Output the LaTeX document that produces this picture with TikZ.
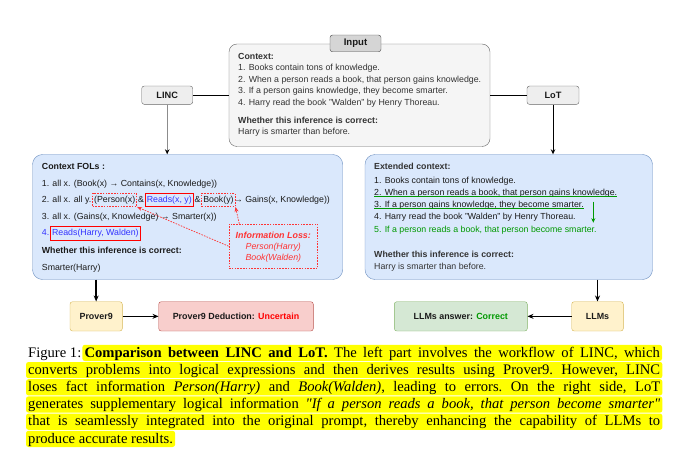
\documentclass[tikz,border=0pt]{standalone}
\usepackage{fontspec}
\setmainfont{Liberation Sans}
\newfontfamily\capfont{Liberation Serif}
\usetikzlibrary{arrows.meta,fit}
\definecolor{txt}{HTML}{1A1A1A}
\definecolor{gtxt}{HTML}{333333}
\definecolor{bfill}{HTML}{DAE8FC}\definecolor{bdraw}{HTML}{6C8EBF}
\definecolor{yfill}{HTML}{FFF2CC}\definecolor{ydraw}{HTML}{D6B656}
\definecolor{rfill}{HTML}{F8CECC}\definecolor{rdraw}{HTML}{B85450}
\definecolor{gfill}{HTML}{D5E8D4}\definecolor{gdraw}{HTML}{82B366}
\definecolor{redt}{HTML}{FF0000}\definecolor{redl}{HTML}{FF3333}
\definecolor{greent}{HTML}{009900}
\definecolor{bluet}{HTML}{3333FF}
\definecolor{hlyellow}{HTML}{FFFF00}
\definecolor{infill}{HTML}{F5F5F5}\definecolor{indraw}{HTML}{666666}
\definecolor{lblfill}{HTML}{EEEEEE}\definecolor{tagfill}{HTML}{D5D5D5}
\pgfdeclarelayer{bg}\pgfsetlayers{bg,main}
\newlength\capfigw
\newcommand\capsz{\capfont\fontsize{14.6}{17}\selectfont\frenchspacing}
\newcommand\fsz{\fontsize{8.8}{10}\selectfont}
\begin{document}
\begin{tikzpicture}[x=1pt,y=-1pt,
  font=\fsz,
  lbl/.style={anchor=base west,inner sep=0pt,text=txt},
  glbl/.style={anchor=base west,inner sep=0pt,text=gtxt},
  tagbox/.style={draw=indraw,fill=lblfill,rounded corners=2.5pt,inner sep=0pt,font=\fontsize{9.2}{10}\selectfont\bfseries,text=txt},
  bigbox/.style={draw=bdraw,fill=bfill,rounded corners=10pt,inner sep=0pt},
  smallbox/.style={rounded corners=2.5pt,inner sep=0pt,minimum height=29.3pt,font=\fontsize{8.9}{10}\selectfont\bfseries,text=txt},
  rsolid/.style={draw=redt,line width=0.8pt,inner xsep=1.3pt,inner ysep=2.3pt},
  rdash/.style={draw=redl,dashed,dash pattern=on 1.6pt off 1.2pt,line width=0.7pt,inner xsep=1.3pt,inner ysep=2.3pt},
  capline/.style={anchor=base west,inner sep=0pt,font=\capsz},
  hl/.style={fill=hlyellow,rounded corners=2.5pt},
  arr/.style={-{Stealth[length=6pt,width=5pt]},line width=1.4pt,black},
  harr/.style={-{Stealth[length=6pt,width=5pt]},line width=0.8pt,black}]
\useasboundingbox (0,0) rectangle (680,476);

% ---------- top ----------
\node[draw=indraw,fill=infill,rounded corners=8pt,minimum width=261pt,minimum height=102.5pt,inner sep=0pt] (input) at (359.5,95.25) {};
\node[tagbox,fill=tagfill,draw=black!70,minimum width=51pt,minimum height=16.7pt,font=\fontsize{9.6}{10}\selectfont\bfseries] (inlbl) at (355.5,43.4) {Input};
\node[glbl,font=\fsz\bfseries] (i0) at (238,59.7) {Context:};
\node[glbl] (i1) at (238,70.3) {1. Books contain tons of knowledge.};
\node[glbl] (i2) at (238,82.3) {2. When a person reads a book, that person gains knowledge.};
\node[glbl] (i3) at (238,94) {3. If a person gains knowledge, they become smarter.};
\node[glbl] (i4) at (238,105.7) {4. Harry read the book "Walden" by Henry Thoreau.};
\node[glbl,font=\fsz\bfseries] (i5) at (238,123.7) {Whether this inference is correct:};
\node[glbl] (i6) at (238,134.7) {Harry is smarter than before.};

\node[tagbox,minimum width=51pt,minimum height=18.3pt] (linc) at (167.2,95.2) {LINC};
\node[tagbox,minimum width=52pt,minimum height=18.3pt] (lot) at (553,95.2) {LoT};
\draw[line width=0.8pt] (linc.east) -- (input.west |- linc.east);
\draw[line width=0.8pt] (lot.west) -- (input.east |- lot.west);

% ---------- big boxes ----------
\node[bigbox,minimum width=310.2pt,minimum height=125pt] (left) at (187.6,217) {};
\node[bigbox,minimum width=287.5pt,minimum height=125pt] (right) at (508.75,217) {};
\draw[-{Stealth[length=5pt,width=4.5pt,black]},line width=0.9pt,black!45] (linc.south) -- (linc.south |- left.north);
\draw[-{Stealth[length=5pt,width=4.5pt]},line width=0.9pt] (lot.south) -- (lot.south |- right.north);

% left box content
\node[lbl,font=\fsz\bfseries] (f0) at (41.7,169) {Context FOLs :};
\node[lbl] (f1) at (41.7,186.3) {1. all x. (Book(x) → Contains(x, Knowledge))};
\node[lbl] (f2a) at (41.7,202.3) {2. all x. all y.\ \null};
\node[lbl] (f2p) at (f2a.base east) {(Person(x)};
\node[lbl] (f2b) at (f2p.base east) {\null\ \&\ \null};
\node[lbl,text=bluet] (f2r) at (f2b.base east) {Reads(x, y)};
\node[lbl] (f2c) at (f2r.base east) {\null\ \&\ \null};
\node[lbl] (f2k) at (f2c.base east) {Book(y)};
\node[lbl] (f2d) at (f2k.base east) {→ Gains(x, Knowledge))};
\node[lbl] (f3) at (41.7,219) {3. all x. (Gains(x, Knowledge) → Smarter(x))};
\node[lbl,text=bluet] (f4a) at (41.7,235.7) {4.\ \null};
\node[lbl,text=bluet] (f4r) at (f4a.base east) {Reads(Harry, Walden)};
\node[lbl,font=\fsz\bfseries] (f5) at (41.7,253) {Whether this inference is correct:};
\node[lbl] (f6) at (41.7,270.3) {Smarter(Harry)};

\node[rdash,fit=(f2p)] (pb) {};
\node[rsolid,fit=(f2r)] (rb) {};
\node[rdash,fit=(f2k)] (kb) {};
\node[rsolid,fit=(f4r)] (rb4) {};

\node[draw=redl,dashed,dash pattern=on 1.6pt off 1.2pt,line width=0.7pt,minimum width=88.7pt,minimum height=44.3pt,inner sep=0pt] (info) at (273.3,246.2) {};
\node[anchor=base,inner sep=0pt,text=redl,font=\fontsize{8.9}{10}\selectfont\bfseries\itshape] (il1) at (273.3,238) {Information Loss:};
\node[anchor=base,inner sep=0pt,text=redl,font=\fsz\itshape] (il2) at (273.3,249.7) {Person(Harry)};
\node[anchor=base,inner sep=0pt,text=redl,font=\fsz\itshape] (il3) at (273.3,260.3) {Book(Walden)};
\draw[redl,dashed,dash pattern=on 1.6pt off 1.2pt,line width=0.7pt,-{Stealth[length=5pt,width=4pt]}] (info.west) -- (pb.south east);
\draw[redl,dashed,dash pattern=on 1.6pt off 1.2pt,line width=0.7pt,-{Stealth[length=5pt,width=4pt]}] ([xshift=-34pt]info.north) -- (kb.south east);

% right box content
\node[glbl,font=\fsz\bfseries] (e0) at (374,169.7) {Extended context:};
\node[lbl] (e1) at (374,183) {1. Books contain tons of knowledge.};
\node[lbl] (e2) at (374,195.3) {2. When a person reads a book, that person gains knowledge.};
\node[lbl] (e3) at (374,207) {3. If a person gains knowledge, they become smarter.};
\node[lbl] (e4) at (374,219.7) {4. Harry read the book "Walden" by Henry Thoreau.};
\node[lbl,text=greent] (e5) at (374,232.3) {5. If a person reads a book, that person become smarter.};
\node[glbl,font=\fsz\bfseries] (e6) at (374,257) {Whether this inference is correct:};
\node[glbl] (e7) at (374,269.7) {Harry is smarter than before.};
\draw[greent,line width=0.8pt] ([yshift=-1.5pt]e2.base west) -- ([yshift=-1.5pt]e2.base east);
\draw[greent,line width=0.8pt] ([yshift=-1.5pt]e3.base west) -- ([yshift=-1.5pt]e3.base east);
\coordinate (ga) at (593.3,201.7);
\coordinate (gb) at (593.3,222.7);
\draw[greent,line width=0.8pt,-{Stealth[length=4.5pt,width=4pt]}] (ga) -- (gb);

% ---------- bottom ----------
\node[smallbox,draw=ydraw,fill=yfill,minimum width=52.3pt] (prover) at (96.15,316.35) {Prover9};
\node[smallbox,draw=rdraw,fill=rfill,minimum width=154.6pt] (ded) at (236,316.35) {Prover9 Deduction: \textcolor{redt}{Uncertain}};
\node[smallbox,draw=gdraw,fill=gfill,minimum width=133pt] (ans) at (460.8,316.35) {LLMs answer: \textcolor{greent}{Correct}};
\node[smallbox,draw=ydraw,fill=yfill,minimum width=51.6pt] (llms) at (597.5,316.35) {LLMs};
\draw[arr] (prover.north |- left.south) -- (prover.north);
\draw[arr] (llms.north |- right.south) -- (llms.north);
\draw[harr] (prover.east) -- (ded.west);
\draw[harr] (llms.west) -- (ans.east);

% ---------- caption ----------
\node[capline] (c1a) at (28,357) {Figure 1:};
\node[capline,anchor=base east] (c1b) at (660,357) {\settowidth{\capfigw}{Figure 1:\ }\hbox to \dimexpr632pt-\capfigw\relax{\textbf{Comparison between LINC and LoT.} The left part involves the workflow of LINC, which}};
\node[capline] (c2) at (28,374.2) {\hbox to 632pt{converts problems into logical expressions and then derives results using Prover9. However, LINC}};
\node[capline] (c3) at (28,391.4) {\hbox to 632pt{loses fact information \textit{Person(Harry)} and \textit{Book(Walden)}, leading to errors. On the right side, LoT}};
\node[capline] (c4) at (28,408.6) {\hbox to 632pt{generates supplementary logical information \textit{"If a person reads a book, that person become smarter"}}};
\node[capline] (c5) at (28,425.8) {\hbox to 632pt{that is seamlessly integrated into the original prompt, thereby enhancing the capability of LLMs to}};
\node[capline] (c6) at (28,443) {produce accurate results.};
\begin{pgfonlayer}{bg}
\foreach \n in {c1b,c2,c3,c4,c5,c6}{
  \fill[hl] ([xshift=-2pt,yshift=-4pt]\n.base west) rectangle ([xshift=2pt,yshift=12.2pt]\n.base east);
}
\end{pgfonlayer}
\end{tikzpicture}
\end{document}
